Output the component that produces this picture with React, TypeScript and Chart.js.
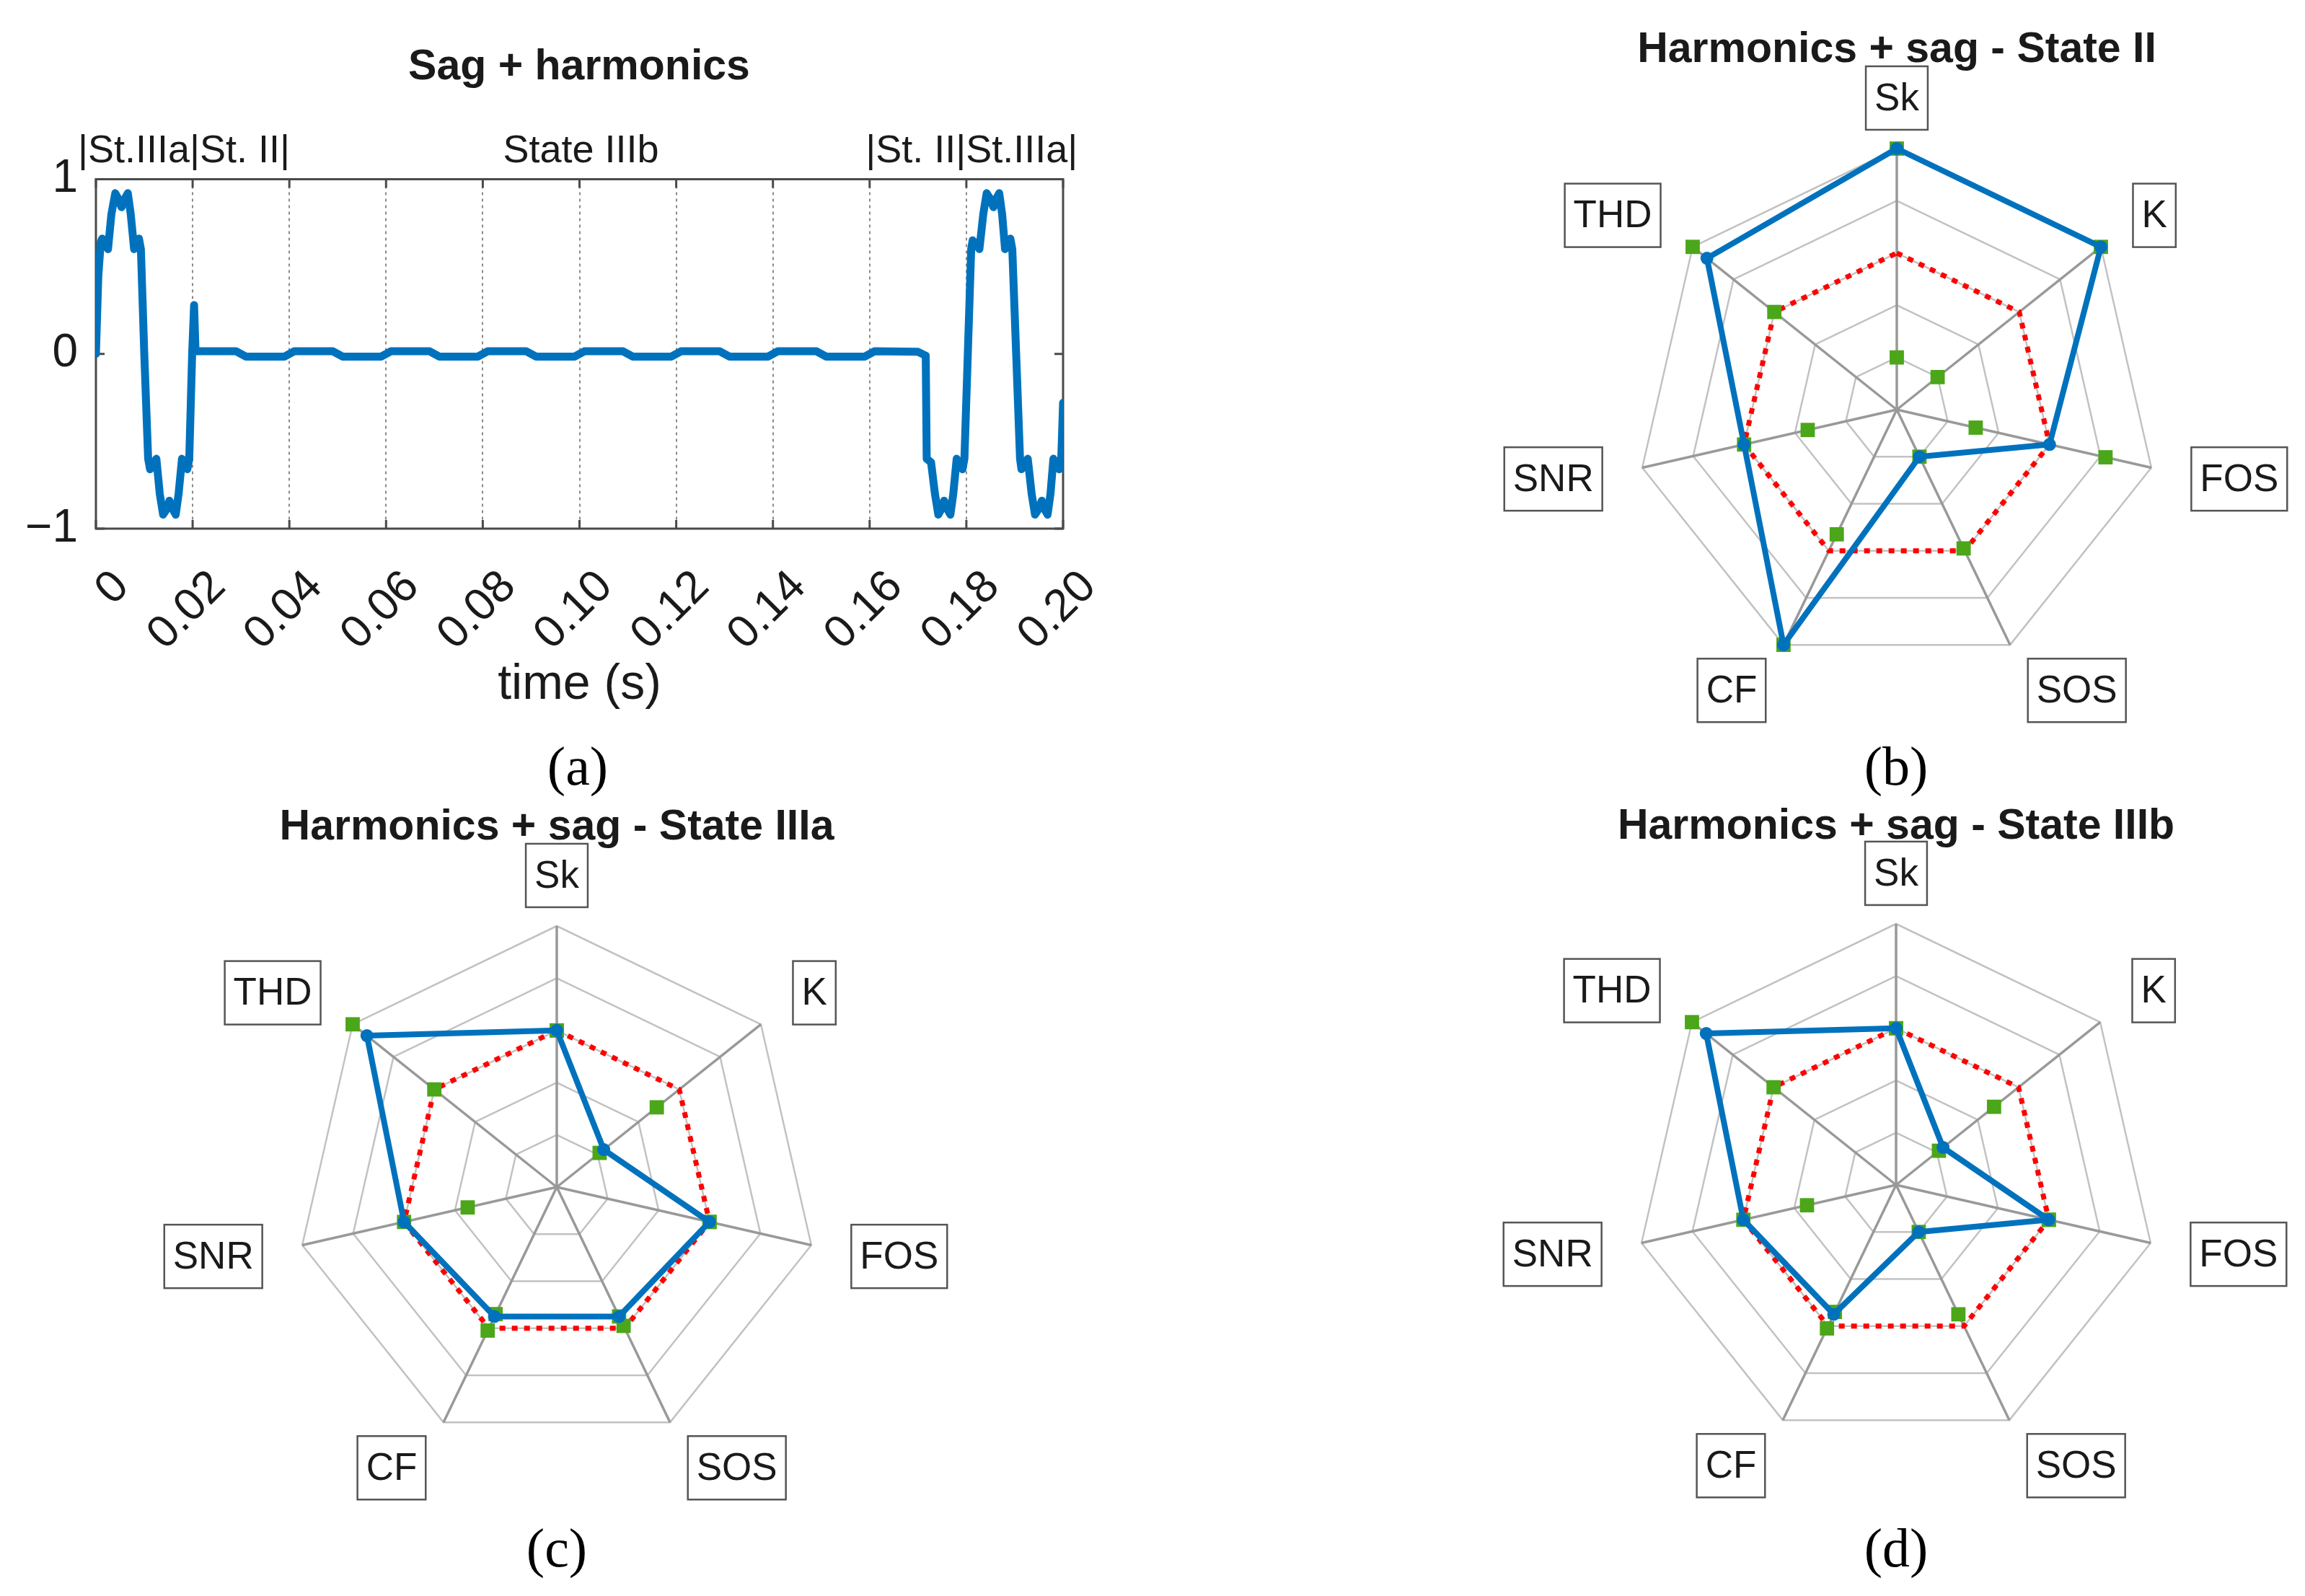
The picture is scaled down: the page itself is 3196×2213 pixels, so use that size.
import React, { useEffect, useRef } from 'react';
import { Chart, registerables } from 'chart.js';

Chart.register(...registerables);

const FONT = '"Liberation Sans", Arial, Helvetica, sans-serif';
const SERIF = '"Liberation Serif", "Times New Roman", serif';
const BLUE = '#0072BD';
const RED = '#FF0000';
const GREEN = '#4BA619';
const TEXT = '#1a1a1a';

// ---------- Panel (a): waveform ----------
const timeS = [
  0, 0.0005, 0.001, 0.0013, 0.0025, 0.0032, 0.004, 0.0046, 0.0053, 0.006,
  0.0066, 0.0072, 0.0079, 0.0089, 0.0093, 0.01, 0.0108, 0.0112, 0.0125, 0.0132,
  0.0139, 0.0146, 0.0152, 0.0159, 0.0165, 0.0171, 0.0178, 0.0189, 0.0193, 0.0199,
  0.0203, 0.0206,
  0.029, 0.031, 0.039, 0.041, 0.049, 0.051, 0.059, 0.061, 0.069, 0.071,
  0.079, 0.081, 0.089, 0.091, 0.099, 0.101, 0.109, 0.111, 0.119, 0.121,
  0.129, 0.131, 0.139, 0.141, 0.149, 0.151, 0.159, 0.161, 0.17, 0.1716,
  0.1718, 0.1727, 0.1735, 0.1742, 0.1748, 0.1754, 0.1761, 0.1767, 0.1773, 0.178,
  0.1792, 0.1796, 0.1803, 0.181, 0.1813, 0.1827, 0.1835, 0.1842, 0.1849, 0.1856,
  0.1862, 0.1868, 0.1874, 0.188, 0.1891, 0.1895, 0.1903, 0.1911, 0.1914, 0.1927,
  0.1935, 0.1942, 0.1949, 0.1956, 0.1962, 0.1968, 0.1974, 0.198, 0.1992, 0.1996,
  0.2,
];
const voltagePu = [
  0, 0.45, 0.64, 0.66, 0.6, 0.8, 0.92, 0.89, 0.84, 0.89,
  0.92, 0.8, 0.6, 0.66, 0.6, 0, -0.6, -0.66, -0.6, -0.8,
  -0.92, -0.89, -0.84, -0.89, -0.92, -0.8, -0.6, -0.66, -0.6, 0,
  0.28, 0.015,
  0.015, -0.015, -0.015, 0.015, 0.015, -0.015, -0.015, 0.015, 0.015, -0.015,
  -0.015, 0.015, 0.015, -0.015, -0.015, 0.015, 0.015, -0.015, -0.015, 0.015,
  0.015, -0.015, -0.015, 0.015, 0.015, -0.015, -0.015, 0.015, 0.012, -0.01,
  -0.6, -0.62, -0.8, -0.92, -0.89, -0.84, -0.89, -0.92, -0.8, -0.6,
  -0.66, -0.6, 0, 0.6, 0.65, 0.6, 0.8, 0.92, 0.89, 0.84,
  0.89, 0.92, 0.8, 0.6, 0.66, 0.6, 0, -0.6, -0.66, -0.6,
  -0.8, -0.92, -0.89, -0.84, -0.89, -0.92, -0.8, -0.6, -0.66, -0.62,
  -0.28,
];
const stateLabels = ['|St.IIIa|St. II|', 'State IIIb', '|St. II|St.IIIa|'];
const stateLabelTimes = [0.0182, 0.1003, 0.1811];

// ---------- Radar panels ----------
const radarAxes = ['Sk', 'K', 'FOS', 'SOS', 'CF', 'SNR', 'THD'];
const referenceLevel = [0.6, 0.6, 0.6, 0.6, 0.6, 0.6, 0.6];

const stateIIValues = [1.0, 1.0, 0.6, 0.2, 1.0, 0.6, 0.93];
const stateIILower = [0.2, 0.2, 0.31, 0.2, 0.53, 0.35, 0.6];
const stateIIUpper = [1.0, 1.0, 0.82, 0.59, 1.0, 0.6, 1.0];

const stateIIIaValues = [0.6, 0.23, 0.6, 0.55, 0.55, 0.6, 0.93];
const stateIIIaLower = [0.6, 0.21, 0.6, 0.55, 0.54, 0.35, 0.6];
const stateIIIaUpper = [0.6, 0.49, 0.6, 0.59, 0.61, 0.6, 1.0];

const stateIIIbValues = [0.6, 0.23, 0.6, 0.2, 0.55, 0.6, 0.93];
const stateIIIbLower = [0.6, 0.21, 0.6, 0.2, 0.54, 0.35, 0.6];
const stateIIIbUpper = [0.6, 0.48, 0.6, 0.55, 0.61, 0.6, 1.0];

// ---------- plugins ----------
const axesBoxPlugin = {
  id: 'axesBox',
  beforeDatasetsDraw(chart: any) {
    const { ctx, chartArea: a, scales } = chart;
    const x = scales.x;
    const y = scales.y;
    ctx.save();
    ctx.strokeStyle = '#4a4a4a';
    ctx.lineWidth = 3;
    ctx.setLineDash([]);
    ctx.strokeRect(a.left, a.top, a.right - a.left, a.bottom - a.top);
    const tl = 12;
    ctx.beginPath();
    x.ticks.forEach((t: any) => {
      const px = x.getPixelForValue(t.value);
      ctx.moveTo(px, a.bottom);
      ctx.lineTo(px, a.bottom - tl);
      ctx.moveTo(px, a.top);
      ctx.lineTo(px, a.top + tl);
    });
    y.ticks.forEach((t: any) => {
      const py = y.getPixelForValue(t.value);
      ctx.moveTo(a.left, py);
      ctx.lineTo(a.left + tl, py);
      ctx.moveTo(a.right, py);
      ctx.lineTo(a.right - tl, py);
    });
    ctx.stroke();
    ctx.restore();
  },
};

const stateLabelsPlugin = {
  id: 'stateLabels',
  afterDraw(chart: any) {
    const { ctx, chartArea: a, scales } = chart;
    ctx.save();
    ctx.font = `54px ${FONT}`;
    ctx.fillStyle = TEXT;
    ctx.textAlign = 'center';
    ctx.textBaseline = 'middle';
    stateLabels.forEach((s, i) => {
      ctx.fillText(s, scales.x.getPixelForValue(stateLabelTimes[i]), a.top - 38);
    });
    ctx.restore();
  },
};

const boxedLabelsPlugin = {
  id: 'boxedLabels',
  afterDraw(chart: any) {
    const s = chart.scales.r;
    const ctx = chart.ctx;
    const R = s.drawingArea;
    const labels: string[] = chart.data.labels;
    ctx.save();
    ctx.font = `53px ${FONT}`;
    ctx.textAlign = 'center';
    ctx.textBaseline = 'middle';
    labels.forEach((lab, i) => {
      const p = s.getPointPosition(i, R);
      const dx = (p.x - s.xCenter) / R;
      const dy = (p.y - s.yCenter) / R;
      const w = ctx.measureText(lab).width + 24;
      const h = 88;
      const sx = Math.abs(dx) < 0.01 ? 0 : Math.sign(dx);
      const cx = s.xCenter + dx * R * 1.157 + (sx * w) / 2;
      const cy = s.yCenter + dy * R * 1.072 + (dy * h) / 2;
      ctx.fillStyle = '#ffffff';
      ctx.fillRect(cx - w / 2, cy - h / 2, w, h);
      ctx.strokeStyle = '#555555';
      ctx.lineWidth = 2.5;
      ctx.strokeRect(cx - w / 2, cy - h / 2, w, h);
      ctx.fillStyle = TEXT;
      ctx.fillText(lab, cx, cy + 2);
    });
    ctx.restore();
  },
};

function waveformConfig(): any {
  return {
    type: 'line',
    data: {
      datasets: [
        {
          data: timeS.map((t, i) => ({ x: t, y: voltagePu[i] })),
          borderColor: BLUE,
          borderWidth: 11,
          pointRadius: 0,
          tension: 0,
          borderJoinStyle: 'round',
          borderCapStyle: 'round',
          fill: false,
        },
      ],
    },
    options: {
      animation: false,
      responsive: false,
      events: [],
      layout: { padding: { left: 0, top: 108.5, right: 86, bottom: 0 } },
      plugins: { legend: { display: false }, tooltip: { enabled: false } },
      scales: {
        x: {
          type: 'linear',
          min: 0,
          max: 0.2,
          afterFit: (sc: any) => {
            sc.height = 327;
            sc.paddingLeft = 0;
            sc.paddingRight = 0;
          },
          ticks: {
            stepSize: 0.02,
            autoSkip: false,
            maxRotation: 45,
            minRotation: 45,
            padding: 44,
            labelOffset: 36,
            color: TEXT,
            font: { size: 63, family: FONT },
            callback: (v: any) => (Math.abs(v) < 1e-9 ? '0' : Number(v).toFixed(2)),
          },
          grid: {
            drawTicks: false,
            lineWidth: 2,
            color: (c: any) =>
              c.tick && (c.tick.value < 0.001 || c.tick.value > 0.199) ? 'rgba(0,0,0,0)' : '#8a8a8a',
          },
          border: { display: false, dash: [4, 5] },
          title: {
            display: true,
            text: 'time (s)',
            color: TEXT,
            font: { size: 68, family: FONT },
            padding: { top: 0, bottom: 69 },
          },
        },
        y: {
          min: -1,
          max: 1,
          afterFit: (sc: any) => {
            sc.width = 133;
            sc.paddingTop = 0;
            sc.paddingBottom = 0;
          },
          ticks: {
            stepSize: 1,
            padding: 25,
            color: TEXT,
            font: { size: 64, family: FONT },
            callback: (v: any) => (v < 0 ? '\u2212' + Math.abs(v) : String(v)),
          },
          grid: { display: false, drawTicks: false },
          border: { display: false },
        },
      },
    },
    plugins: [axesBoxPlugin, stateLabelsPlugin],
  };
}

function radarConfig(values: number[], lower: number[], upper: number[]): any {
  return {
    type: 'radar',
    data: {
      labels: radarAxes,
      datasets: [
        {
          data: values,
          borderColor: BLUE,
          borderWidth: 8,
          borderJoinStyle: 'round',
          pointRadius: 9,
          pointBackgroundColor: BLUE,
          pointBorderWidth: 0,
          fill: false,
        },
        {
          data: upper,
          showLine: false,
          borderColor: 'rgba(0,0,0,0)',
          pointStyle: 'rect',
          pointRadius: 14,
          pointBackgroundColor: GREEN,
          pointBorderWidth: 0,
          fill: false,
        },
        {
          data: lower,
          showLine: false,
          borderColor: 'rgba(0,0,0,0)',
          pointStyle: 'rect',
          pointRadius: 14,
          pointBackgroundColor: GREEN,
          pointBorderWidth: 0,
          fill: false,
        },
        {
          data: referenceLevel,
          borderColor: RED,
          borderWidth: 7,
          borderDash: [8, 9],
          borderCapStyle: 'butt',
          pointRadius: 0,
          fill: false,
        },
      ],
    },
    options: {
      animation: false,
      responsive: false,
      events: [],
      layout: { padding: 198 },
      plugins: { legend: { display: false }, tooltip: { enabled: false } },
      scales: {
        r: {
          min: 0,
          max: 1,
          ticks: { display: false, stepSize: 0.2 },
          grid: { color: '#c2c2c2', lineWidth: 2.5 },
          angleLines: { color: '#999999', lineWidth: 3.5 },
          pointLabels: { display: false },
        },
      },
    },
    plugins: [boxedLabelsPlugin],
  };
}

function ChartCanvas(props: { make: () => any; left: number; top: number; width: number; height: number }) {
  const ref = useRef<HTMLCanvasElement>(null);
  useEffect(() => {
    const chart = new Chart(ref.current as HTMLCanvasElement, props.make());
    return () => chart.destroy();
  }, []);
  return (
    <canvas
      ref={ref}
      width={props.width}
      height={props.height}
      style={{
        position: 'absolute',
        left: props.left,
        top: props.top,
        width: props.width,
        height: props.height,
      }}
    />
  );
}

function Text(props: { x: number; y: number; text: string; style: React.CSSProperties }) {
  return (
    <div
      style={{
        position: 'absolute',
        left: props.x,
        top: props.y,
        transform: 'translate(-50%, -50%)',
        whiteSpace: 'nowrap',
        lineHeight: 1,
        color: TEXT,
        zIndex: 2,
        ...props.style,
      }}
    >
      {props.text}
    </div>
  );
}

const titleStyle: React.CSSProperties = { fontFamily: FONT, fontWeight: 'bold', fontSize: 59 };
const captionStyle: React.CSSProperties = { fontFamily: SERIF, fontSize: 76, color: '#000' };

export default function App() {
  return (
    <div
      style={{
        position: 'absolute',
        left: 0,
        top: 0,
        width: 3196,
        height: 2213,
        overflow: 'hidden',
        background: '#ffffff',
      }}
    >
      <ChartCanvas make={waveformConfig} left={0} top={140} width={1560} height={920} />
      <ChartCanvas make={() => radarConfig(stateIIValues, stateIILower, stateIIUpper)} left={2070} top={8} width={1120} height={1120} />
      <ChartCanvas make={() => radarConfig(stateIIIaValues, stateIIIaLower, stateIIIaUpper)} left={212} top={1086} width={1120} height={1120} />
      <ChartCanvas make={() => radarConfig(stateIIIbValues, stateIIIbLower, stateIIIbUpper)} left={2069} top={1083} width={1120} height={1120} />

      <Text x={803} y={90} text="Sag + harmonics" style={titleStyle} />
      <Text x={2630} y={66} text="Harmonics + sag - State II" style={titleStyle} />
      <Text x={772} y={1144} text="Harmonics + sag - State IIIa" style={titleStyle} />
      <Text x={2629} y={1143} text="Harmonics + sag - State IIIb" style={titleStyle} />

      <Text x={801} y={1062} text="(a)" style={captionStyle} />
      <Text x={2629} y={1062} text="(b)" style={captionStyle} />
      <Text x={772} y={2146} text="(c)" style={captionStyle} />
      <Text x={2629} y={2146} text="(d)" style={captionStyle} />
    </div>
  );
}
